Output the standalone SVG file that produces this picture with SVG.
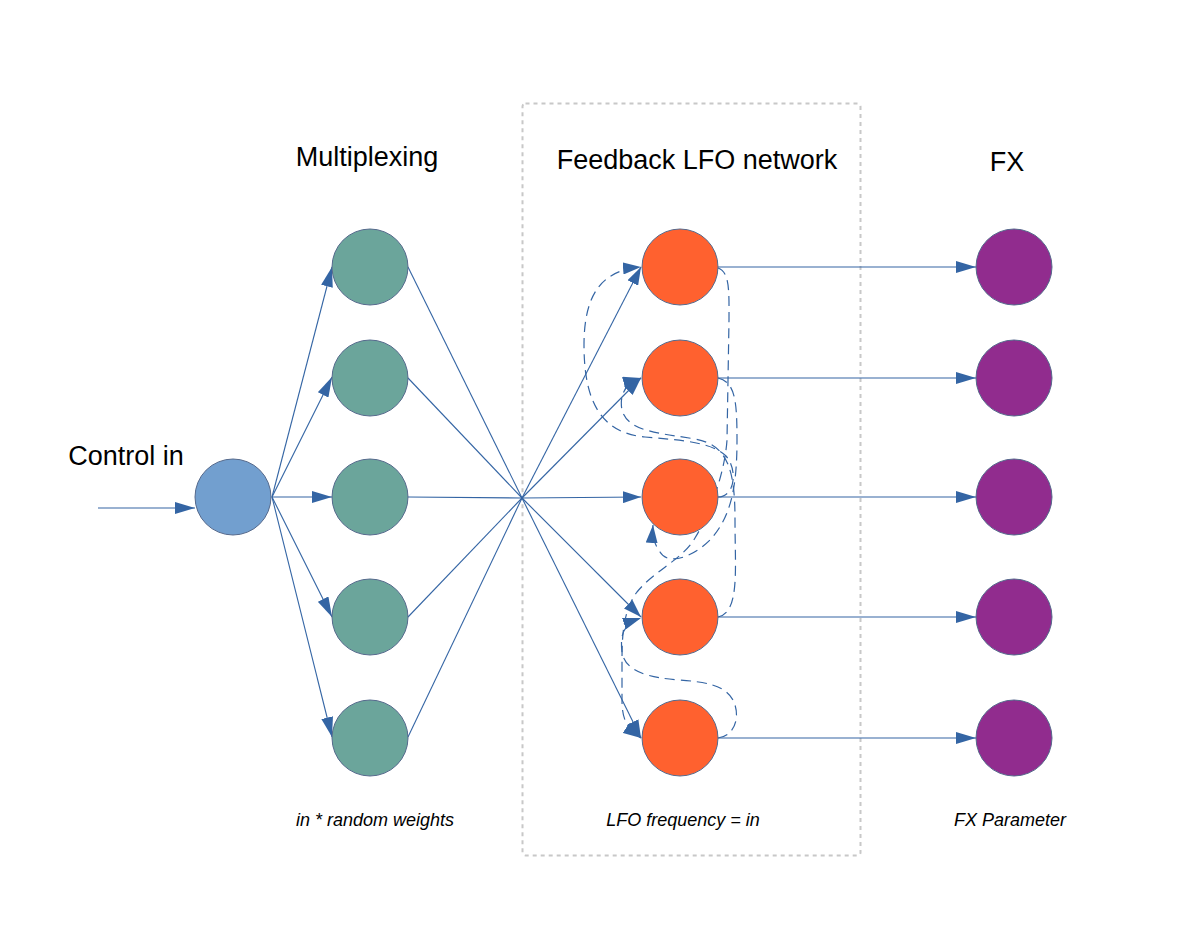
<svg xmlns="http://www.w3.org/2000/svg" width="1199" height="927" viewBox="0 0 1199 927">
<style>
.title{font-family:"Liberation Sans",Arial,sans-serif;font-size:27px;fill:#000;text-anchor:middle}
.note{font-family:"Liberation Sans",Arial,sans-serif;font-size:18px;font-style:italic;fill:#000;text-anchor:middle}
.node{stroke:#55698c;stroke-width:1}
.in{fill:#729fcf}
.mux{fill:#6ba59b}
.lfo{fill:#ff612f}
.fx{fill:#912c8e}
.edge{fill:none;stroke:#3465a4;stroke-width:1.1}
.fb{fill:none;stroke:#3465a4;stroke-width:1.2;stroke-dasharray:10,6}
</style>
<defs>
<marker id="arr" markerUnits="userSpaceOnUse" markerWidth="20" markerHeight="12" refX="20" refY="6" orient="auto">
<path d="M0,0 L20,6 L0,12 z" fill="#3465a4"/>
</marker>
<marker id="arrs" markerUnits="userSpaceOnUse" markerWidth="18" markerHeight="12" refX="18" refY="6" orient="auto">
<path d="M0,0 L18,6 L0,12 z" fill="#3465a4"/>
</marker>
</defs>
<rect x="522.5" y="103.5" width="338" height="752" rx="3" fill="none" stroke="#c8c8c8" stroke-width="2" stroke-dasharray="4,4"/>
<g id="labels">
<text class="title" x="126" y="465">Control in</text>
<text class="title" x="367" y="166">Multiplexing</text>
<text class="title" x="697" y="169">Feedback LFO network</text>
<text class="title" x="1007" y="171">FX</text>
<text class="note" x="375" y="826">in * random weights</text>
<text class="note" x="683" y="826">LFO frequency = in</text>
<text class="note" x="1010" y="826">FX Parameter</text>
</g>
<g id="connectors">
<path class="edge" d="M98,508 L195,508" marker-end="url(#arr)"/>
<path class="edge" d="M272,497 L332,267" marker-end="url(#arr)"/>
<path class="edge" d="M272,497 L332,377" marker-end="url(#arr)"/>
<path class="edge" d="M272,497 L332,497" marker-end="url(#arr)"/>
<path class="edge" d="M272,497 L332,617" marker-end="url(#arr)"/>
<path class="edge" d="M272,497 L332,737" marker-end="url(#arr)"/>
<path class="edge" d="M408,267 L522,498"/>
<path class="edge" d="M408,378 L522,498"/>
<path class="edge" d="M408,497 L522,498"/>
<path class="edge" d="M408,617 L522,498"/>
<path class="edge" d="M408,737 L522,498"/>
<path class="edge" d="M522,498 L641,267" marker-end="url(#arrs)"/>
<path class="edge" d="M522,498 L641,378" marker-end="url(#arrs)"/>
<path class="edge" d="M522,498 L641,497" marker-end="url(#arrs)"/>
<path class="edge" d="M522,498 L641,617" marker-end="url(#arrs)"/>
<path class="edge" d="M522,498 L641,738" marker-end="url(#arrs)"/>
<path class="edge" d="M718,267 L976,267" marker-end="url(#arr)"/>
<path class="edge" d="M718,378 L976,378" marker-end="url(#arr)"/>
<path class="edge" d="M718,497 L976,497" marker-end="url(#arr)"/>
<path class="edge" d="M718,617 L976,617" marker-end="url(#arr)"/>
<path class="edge" d="M718,738 L976,738" marker-end="url(#arr)"/>
<path class="fb" d="M718,497 C735,497 738,470 726,456 C712,442 680,440 645,437 C600,433 584,400 584,345 C584,290 605,270 641,267" marker-end="url(#arrs)"/>
<path class="fb" d="M718,617 C740,612 735,570 735,520 C735,470 728,445 695,439 C660,433 628,432 622,410 C619,395 626,382 641,378" marker-end="url(#arrs)"/>
<path class="fb" d="M718,378 C735,382 737,400 737,440 C737,490 730,518 710,540 C693,557 668,566 660,552 C655,545 652,538 653,525" marker-end="url(#arrs)"/>
<path class="fb" d="M718,268 C730,272 729,292 729,320 L727,440 C725,470 712,510 695,538 C682,560 655,570 637,592 C622,612 622,640 622,665 L622,700 C622,718 626,728 641,738" marker-end="url(#arrs)"/>
<path class="fb" d="M718,738 C735,736 741,716 733,700 C725,685 705,682 680,680 C650,678 625,672 622,652 C620,635 623,624 641,618" marker-end="url(#arrs)"/>
</g>
<g id="control-in"><circle class="node in" cx="233" cy="497" r="38"/></g>
<g id="mux-1"><circle class="node mux" cx="370" cy="267" r="38"/></g>
<g id="mux-2"><circle class="node mux" cx="370" cy="378" r="38"/></g>
<g id="mux-3"><circle class="node mux" cx="370" cy="497" r="38"/></g>
<g id="mux-4"><circle class="node mux" cx="370" cy="617" r="38"/></g>
<g id="mux-5"><circle class="node mux" cx="370" cy="738" r="38"/></g>
<g id="lfo-1"><circle class="node lfo" cx="680" cy="267" r="38"/></g>
<g id="lfo-2"><circle class="node lfo" cx="680" cy="378" r="38"/></g>
<g id="lfo-3"><circle class="node lfo" cx="680" cy="497" r="38"/></g>
<g id="lfo-4"><circle class="node lfo" cx="680" cy="617" r="38"/></g>
<g id="lfo-5"><circle class="node lfo" cx="680" cy="738" r="38"/></g>
<g id="fx-1"><circle class="node fx" cx="1014" cy="267" r="38"/></g>
<g id="fx-2"><circle class="node fx" cx="1014" cy="378" r="38"/></g>
<g id="fx-3"><circle class="node fx" cx="1014" cy="497" r="38"/></g>
<g id="fx-4"><circle class="node fx" cx="1014" cy="617" r="38"/></g>
<g id="fx-5"><circle class="node fx" cx="1014" cy="738" r="38"/></g>
</svg>
